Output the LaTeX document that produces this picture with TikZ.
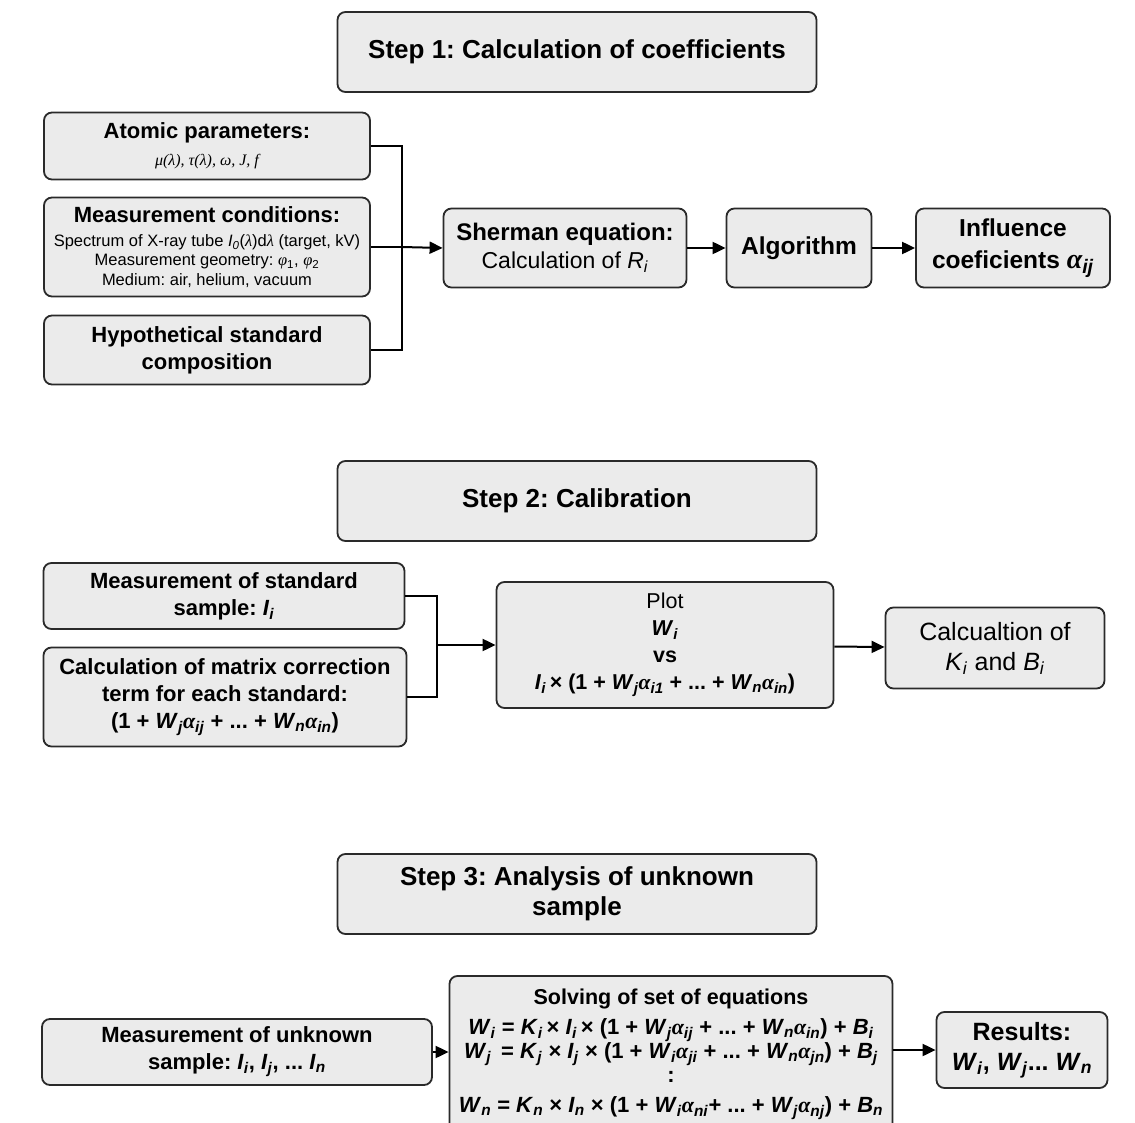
\documentclass[tikz,border=0pt]{standalone}
\usepackage{fontspec}
\setmainfont{Liberation Sans}
\newfontfamily\serifgreek{Liberation Serif}
\usetikzlibrary{arrows.meta}
\frenchspacing
\definecolor{boxfill}{HTML}{EBEBEB}
\definecolor{boxline}{HTML}{2A2A2A}
% italic variable with italic subscript
\newcommand\sv[2]{\textit{#1}\textsubscript{\textit{#2}}}
% greek letters in serif italic
\newcommand\gr[1]{{\serifgreek\itshape #1}}
\newcommand\al[1]{\gr{α}\textsubscript{\textit{#1}}}
\tikzset{
  box/.style={draw=boxline,fill=boxfill,rounded corners=8pt,line width=1.8pt,
    align=center,inner sep=0pt},
  stepbox/.style={box,minimum width=479pt,minimum height=80pt,
    font=\fontsize{26}{30}\selectfont\bfseries},
  flow/.style={-{Triangle[length=13pt,width=12pt]},line width=2pt},
  link/.style={line width=2pt}
}
\begin{document}
\begin{tikzpicture}[x=1pt,y=-1pt]
  \useasboundingbox (0,0) rectangle (1135,1123);

  % Step 1
  \node[stepbox] (s1) at (577,52) {Step 1: Calculation of coefficients};
  \node[box,minimum width=326pt,minimum height=67pt,
    font=\fontsize{22}{27}\selectfont] (atom) at (207,146)
    {\bfseries Atomic parameters:\\
     \fontsize{16}{19}\selectfont\gr{μ(λ), τ(λ), ω, J, f}};
  \node[box,minimum width=326pt,minimum height=99pt,
    font=\fontsize{16.5}{19.5}\selectfont] (meas) at (207,247)
    {\fontsize{22}{24}\selectfont\bfseries Measurement conditions:\\[4.5pt]
     Spectrum of X-ray tube \sv{I}{0}(\gr{λ})d\gr{λ} (target, kV)\\
     Measurement geometry: \gr{φ}\textsubscript{1}, \gr{φ}\textsubscript{2}\\
     Medium: air, helium, vacuum};
  \node[box,minimum width=326pt,minimum height=69pt,
    font=\fontsize{22}{27}\selectfont\bfseries] (hypo) at (207,350)
    {Hypothetical standard\\composition};
  \node[box,minimum width=243pt,minimum height=79pt,
    font=\fontsize{23}{28}\selectfont] (sher) at (565,248)
    {\fontsize{24}{28}\selectfont\bfseries Sherman equation:\\
     Calculation of \sv{R}{i}};
  \node[box,minimum width=145pt,minimum height=79pt,
    font=\fontsize{24.5}{28}\selectfont\bfseries] (algo) at (799,248) {Algorithm};
  \node[box,minimum width=194pt,minimum height=79pt,
    font=\fontsize{24.5}{32}\selectfont\bfseries] (infl) at (1013,248)
    {Influence\\coeficients {\fontsize{28}{32}\selectfont\al{ij}}};
  \coordinate (j1) at (402,247);
  \draw[link] (atom.east) -| (j1);
  \draw[link] (hypo.east) -| (j1);
  \draw[link] (meas.east) -- (j1);
  \draw[flow] (j1) -- (sher.west);
  \draw[flow] (sher) -- (algo);
  \draw[flow] (algo) -- (infl);

  % Step 2
  \node[stepbox] (s2) at (577,501) {Step 2: Calibration};
  \node[box,minimum width=361pt,minimum height=66pt,
    font=\fontsize{22}{27}\selectfont\bfseries] (std) at (224,596)
    {Measurement of standard\\sample: \sv{I}{i}};
  \node[box,minimum width=363pt,minimum height=99pt,
    font=\fontsize{22}{27}\selectfont\bfseries] (mat) at (225,697)
    {Calculation of matrix correction\\term for each standard:\\
     (1 + \sv{W}{j}\al{ij} + ... + \sv{W}{n}\al{in})};
  \node[box,minimum width=337pt,minimum height=126pt,
    font=\fontsize{21.5}{27}\selectfont] (plot) at (665,645)
    {Plot\\\textbf{\sv{W}{i}}\\\textbf{vs}\\
     \textbf{\sv{I}{i}\,× (1 + \sv{W}{j}\al{i1} + ... + \sv{W}{n}\al{in})}};
  \node[box,minimum width=219pt,minimum height=81pt,
    font=\fontsize{25}{30}\selectfont] (kb) at (995,648)
    {Calcualtion of\\\sv{K}{i} and \sv{B}{i}};
  \coordinate (j2) at (437,645);
  \draw[link] (std.east) -| (j2);
  \draw[link] (mat.east) -| (j2);
  \draw[flow] (j2) -- (plot.west);
  \draw[flow] (plot) -- (kb);

  % Step 3
  \node[stepbox] (s3) at (577,894) {Step 3: Analysis of unknown\\sample};
  \node[box,minimum width=390pt,minimum height=66pt,
    font=\fontsize{22}{27}\selectfont\bfseries] (unk) at (237,1052)
    {Measurement of unknown\\sample: \sv{I}{i}, \sv{I}{j}, ... \sv{I}{n}};
  \node[box,minimum width=443pt,minimum height=156pt,
    font=\fontsize{22}{24}\selectfont\bfseries] (solve) at (671,1054)
    {\fontsize{21.5}{24}\selectfont Solving of set of equations\\[6pt]
     \sv{W}{i} = \sv{K}{i}\,× \sv{I}{i}\,× (1 + \sv{W}{j}\al{ij} + ... + \sv{W}{n}\al{in}) + \sv{B}{i}\\
     \sv{W}{j}\ \,= \sv{K}{j} × \sv{I}{j} × (1 + \sv{W}{i}\al{ji} + ... + \sv{W}{n}\al{jn}) + \sv{B}{j}\\
     :\\[6pt]
     \sv{W}{n} = \sv{K}{n} × \sv{I}{n} × (1 + \sv{W}{i}\al{ni}+ ... + \sv{W}{j}\al{nj}) + \sv{B}{n}};
  \node[box,minimum width=171pt,minimum height=76pt,
    font=\fontsize{25}{30}\selectfont\bfseries] (res) at (1022,1050)
    {Results:\\\sv{W}{i}, \sv{W}{j}... \sv{W}{n}};
  \draw[flow] (unk) -- (unk -| solve.west);
  \draw[flow] (res -| solve.east) -- (res);
\end{tikzpicture}
\end{document}
